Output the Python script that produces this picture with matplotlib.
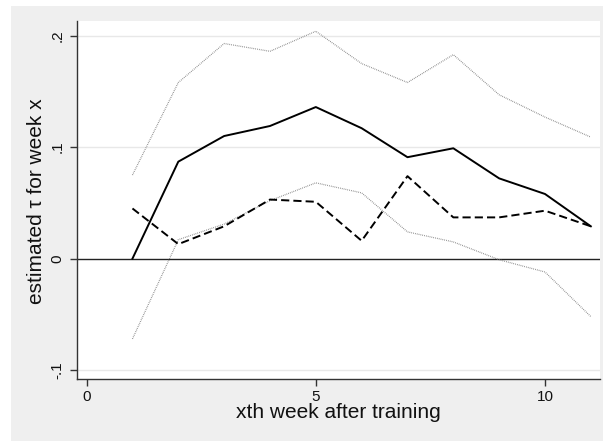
import matplotlib
matplotlib.use("Agg")
import matplotlib.pyplot as plt
from matplotlib.patches import Rectangle

plt.rcParams['font.family'] = ['Liberation Sans', 'DejaVu Sans']

weeks = [1, 2, 3, 4, 5, 6, 7, 8, 9, 10, 11]
tau = [0.000, 0.087, 0.110, 0.119, 0.136, 0.117, 0.091, 0.099, 0.072, 0.058, 0.029]
upper = [0.075, 0.158, 0.193, 0.186, 0.204, 0.175, 0.158, 0.183, 0.147, 0.127, 0.109]
lower = [-0.072, 0.017, 0.031, 0.052, 0.068, 0.059, 0.024, 0.015, -0.001, -0.012, -0.052]
dashed = [0.045, 0.013, 0.029, 0.053, 0.051, 0.016, 0.074, 0.037, 0.037, 0.043, 0.029]

xticks = [0, 5, 10]
xtick_labels = ["0", "5", "10"]
yticks = [-0.1, 0, 0.1, 0.2]
ytick_labels = ["-.1", "0", ".1", ".2"]

W, H = 603, 441
fig = plt.figure(figsize=(W / 100, H / 100), dpi=100)
fig.patch.set_facecolor('white')
fig.patches.append(Rectangle((11 / W, 0), 1 - 11 / W, 1 - 6 / H,
                             transform=fig.transFigure, facecolor='#efefef',
                             edgecolor='none', zorder=-10))

ax = fig.add_axes([77 / W, 1 - 379 / H, (600 - 77) / W, (379 - 21) / H])
ax.set_facecolor('white')

for yv in [-0.1, 0.1, 0.2]:
    ax.axhline(yv, color='#e8e8e8', lw=1.0, zorder=0)
ax.axhline(0, color='#222222', lw=1.0, zorder=1)

ax.plot(weeks, upper, color='#808080', lw=0.9, linestyle=(0, (0.6, 0.9)), zorder=2)
ax.plot(weeks, lower, color='#808080', lw=0.9, linestyle=(0, (0.6, 0.9)), zorder=2)
ax.plot(weeks, dashed, color='black', lw=1.4, linestyle=(0, (4.2, 2.1)), zorder=3)
ax.plot(weeks, tau, color='black', lw=1.4, zorder=4)

ax.set_xlim(-0.21, 11.2)
ax.set_ylim(-0.108, 0.2132)

ax.set_xticks(xticks)
ax.set_xticklabels(xtick_labels, fontsize=11)
ax.set_yticks(yticks)
ax.set_yticklabels(ytick_labels, fontsize=11, rotation=90, va='center')

for s in ['top', 'right']:
    ax.spines[s].set_visible(False)
for s in ['left', 'bottom']:
    ax.spines[s].set_color('#333333')
    ax.spines[s].set_linewidth(1.0)
ax.tick_params(axis='both', direction='out', length=5, width=1.0, color='#333333',
               labelcolor='#111111')
ax.tick_params(axis='x', pad=3)
ax.tick_params(axis='y', pad=4)

ax.set_xlabel("xth week after training", fontsize=15, color='#111111')
ax.set_ylabel("estimated \u03c4 for week x", fontsize=15, color='#111111')
ax.xaxis.set_label_coords(0.5, (379 - 413) / 358)
ax.xaxis.label.set_va('center')
ax.yaxis.set_label_coords((37 - 77) / 523, (379 - 201) / 358)
ax.yaxis.label.set_va('center')

fig.savefig("out.png", dpi=100, facecolor=fig.get_facecolor())
